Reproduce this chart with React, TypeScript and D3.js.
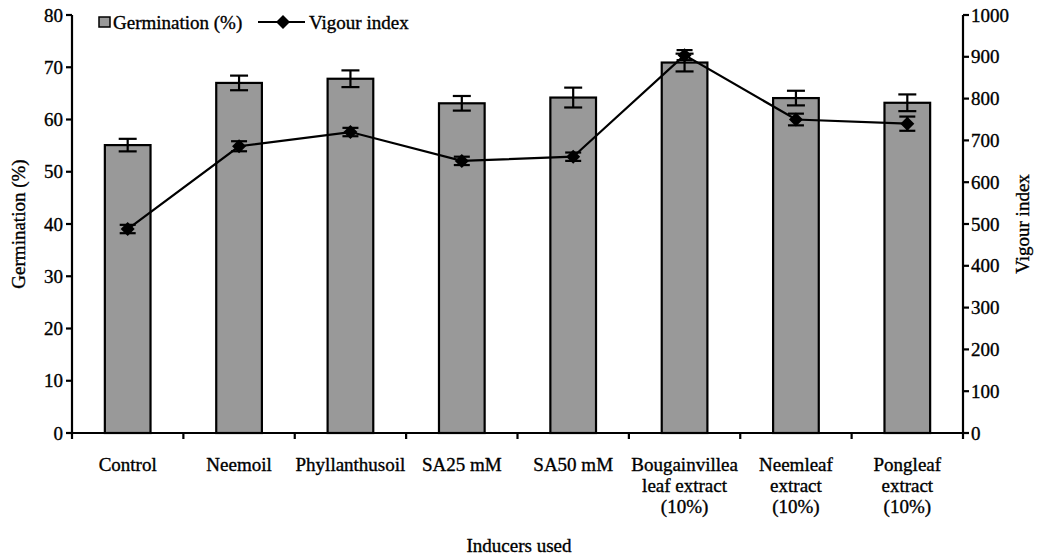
import React from "react";
import * as d3 from "d3";

const categories: string[][] = [
  ["Control"],
  ["Neemoil"],
  ["Phyllanthusoil"],
  ["SA25 mM"],
  ["SA50 mM"],
  ["Bougainvillea", "leaf extract", "(10%)"],
  ["Neemleaf", "extract", "(10%)"],
  ["Pongleaf", "extract", "(10%)"],
];
const germination = [55.1, 67.0, 67.8, 63.1, 64.2, 70.9, 64.1, 63.2];
const germinationErr = [1.2, 1.4, 1.6, 1.4, 1.9, 1.7, 1.4, 1.6];
const vigour = [488, 686, 720, 651, 661, 904, 750, 740];
const vigourErr = [10, 12, 10, 10, 10, 12, 14, 17];
const leftTicks = [0, 10, 20, 30, 40, 50, 60, 70, 80];
const rightTicks = [0, 100, 200, 300, 400, 500, 600, 700, 800, 900, 1000];

const W = 1037;
const H = 558;
const FONT = "'Liberation Serif', 'Times New Roman', serif";
const FS = 19;

export default function App() {
  const keys = categories.map((c) => c.join(" "));
  const x = d3
    .scaleBand<string>()
    .domain(keys)
    .range([72, 963])
    .paddingInner(0.59)
    .paddingOuter(0.295);
  const step = x.step();
  const yL = d3.scaleLinear().domain([0, 80]).range([433, 15]);
  const yR = d3.scaleLinear().domain([0, 1000]).range([433, 15]);
  const cx = (i: number) => (x(keys[i]) as number) + x.bandwidth() / 2;

  const line = d3
    .line<number>()
    .x((_, i) => cx(i))
    .y((d) => yR(d));

  const diamond = (px: number, py: number, r = 7) =>
    `M${px},${py - r}L${px + r},${py}L${px},${py + r}L${px - r},${py}Z`;

  const x0 = x.range()[0];
  const x1 = x.range()[1];
  const boundaries = d3.range(keys.length + 1).map((i) => x0 + i * step);

  const textStyle = { stroke: "#000", strokeWidth: 0.35 } as const;

  return (
    <svg
      width={W}
      height={H}
      style={{ position: "absolute", left: 0, top: 0, background: "#fff" }}
      fontFamily={FONT}
      fontSize={FS}
    >
      <rect width={W} height={H} fill="#fff" />
      {/* bars */}
      {germination.map((v, i) => (
        <rect
          key={"b" + i}
          x={x(keys[i])}
          y={yL(v)}
          width={x.bandwidth()}
          height={yL(0) - yL(v)}
          fill="#999999"
          stroke="#000"
          strokeWidth={2.2}
        />
      ))}
      {/* germination error bars */}
      {germination.map((v, i) => {
        const c = cx(i);
        const t = yL(v + germinationErr[i]);
        const b = yL(v - germinationErr[i]);
        return (
          <g key={"e" + i} stroke="#000" strokeWidth={2.2}>
            <line x1={c} x2={c} y1={t} y2={b} />
            <line x1={c - 9} x2={c + 9} y1={t} y2={t} />
            <line x1={c - 9} x2={c + 9} y1={b} y2={b} />
          </g>
        );
      })}
      {/* vigour line */}
      <path d={line(vigour) || ""} fill="none" stroke="#000" strokeWidth={2.2} />
      {vigour.map((v, i) => {
        const c = cx(i);
        const t = yR(v + vigourErr[i]);
        const b = yR(v - vigourErr[i]);
        return (
          <g key={"v" + i}>
            <g stroke="#000" strokeWidth={2.2}>
              <line x1={c} x2={c} y1={t} y2={b} />
              <line x1={c - 8} x2={c + 8} y1={t} y2={t} />
              <line x1={c - 8} x2={c + 8} y1={b} y2={b} />
            </g>
            <path d={diamond(c, yR(v))} fill="#000" />
          </g>
        );
      })}
      {/* axes */}
      <g stroke="#000" strokeWidth={2.2}>
        <line x1={x0} x2={x0} y1={yL(80)} y2={yL(0)} />
        <line x1={x1} x2={x1} y1={yR(1000)} y2={yR(0)} />
        <line x1={x0} x2={x1} y1={yL(0)} y2={yL(0)} />
        {leftTicks.map((t) => (
          <line key={"lt" + t} x1={x0 - 6} x2={x0} y1={yL(t)} y2={yL(t)} />
        ))}
        {rightTicks.map((t) => (
          <line key={"rt" + t} x1={x1} x2={x1 + 6} y1={yR(t)} y2={yR(t)} />
        ))}
        {boundaries.map((b, i) => (
          <line key={"xt" + i} x1={b} x2={b} y1={yL(0)} y2={yL(0) + 6} />
        ))}
      </g>
      <g style={textStyle}>
        {leftTicks.map((t) => (
          <text key={"ll" + t} x={x0 - 9} y={yL(t)} dy="0.35em" textAnchor="end">
            {t}
          </text>
        ))}
        {rightTicks.map((t) => (
          <text key={"rl" + t} x={x1 + 8} y={yR(t)} dy="0.35em" textAnchor="start">
            {t}
          </text>
        ))}
        {categories.map((lines, i) => (
          <text key={"cl" + i} x={cx(i)} y={471} textAnchor="middle">
            {lines.map((l, j) => (
              <tspan key={j} x={cx(i)} dy={j === 0 ? 0 : 21}>
                {l}
              </tspan>
            ))}
          </text>
        ))}
        {/* axis titles */}
        <text x={519} y={552} textAnchor="middle">
          Inducers used
        </text>
        <text
          transform={`translate(25,${(yL(0) + yL(80)) / 2}) rotate(-90)`}
          textAnchor="middle"
        >
          Germination (%)
        </text>
        <text
          transform={`translate(1029,${(yL(0) + yL(80)) / 2}) rotate(-90)`}
          textAnchor="middle"
        >
          Vigour index
        </text>
        {/* legend text */}
        <text x={113} y={22} dy="0.35em">
          Germination (%)
        </text>
        <text x={309} y={22} dy="0.35em">
          Vigour index
        </text>
      </g>
      {/* legend marks */}
      <rect x={99} y={17} width={11} height={10} fill="#999999" stroke="#000" strokeWidth={1.5} />
      <line x1={258} x2={305} y1={22} y2={22} stroke="#000" strokeWidth={2.2} />
      <path d={diamond(283, 22)} fill="#000" />
    </svg>
  );
}
